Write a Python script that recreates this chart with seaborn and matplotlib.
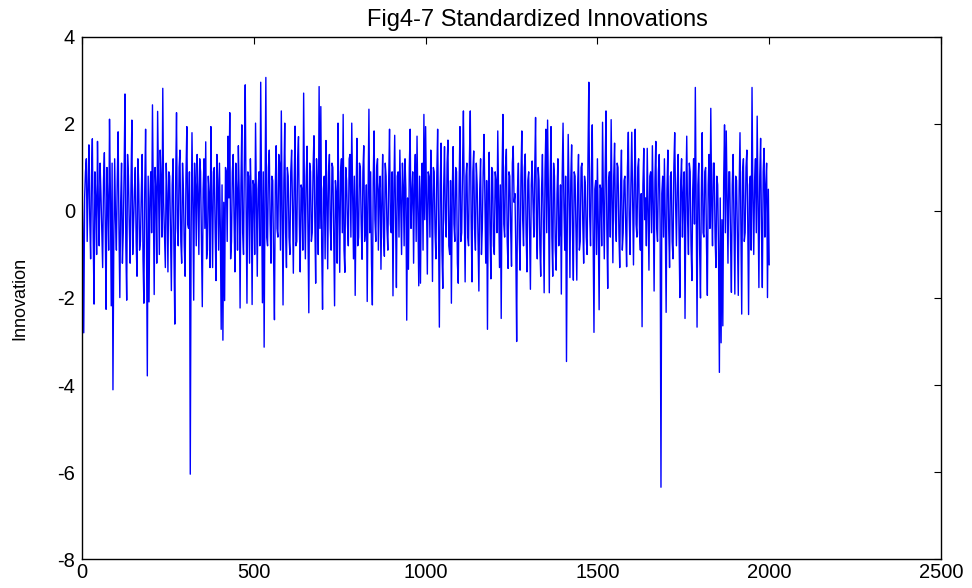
import numpy as np
import pandas as pd
import matplotlib
matplotlib.use("Agg")
import matplotlib.pyplot as plt
import seaborn as sns

# Standardized innovations (one value every 2.5 samples)
step = 2.5
innov = [
    0.6, -0.4, -2.8, 0.3, 0.9, 1.2, -0.7, 0.5, 1.52, -0.2, -1.1, 0.8, 1.66, -0.6, -2.14, 0.9, 0.3, -1.0, 1.6, 0.2,
    -0.8, 1.1, 0.4, -0.5, -1.3, 0.7, 1.34, -0.3, -2.26, 1.0, 0.2, -0.9, 2.11, 0.4, -2.18, 1.1, -4.11, -0.6, 1.2, -0.2,
    -0.9, 0.7, 1.82, -0.4, -1.99, 0.2, 1.1, -1.2, -0.5, 0.9, 2.69, -0.8, -2.05, 1.3, 0.8, -0.3, -1.2, 0.6, 2.09, -1.0,
    -0.3, 0.5, 1.0, -0.7, -1.5, 1.2, 0.6, -0.9, -0.7, 0.4, 1.3, -1.1, -2.12, 0.5, 1.88, -0.6, -3.79, 0.8, -2.09, 0.3,
    0.9, -0.5, 2.44, 0.3, -1.92, 1.0, 0.5, -1.2, 2.29, 0.6, -1.0, 1.4, 0.7, -0.6, 2.82, 0.2, -0.6, -1.3, 1.1, 0.4,
    -1.4, 0.9, 0.8, -0.5, -1.83, 0.6, 1.2, -0.9, -2.6, 0.7, 2.26, -0.4, -0.8, 1.0, 1.4, -0.7, -1.2, 1.1, 0.5, -0.8,
    -1.5, 0.8, 1.94, -0.3, -0.4, 0.9, -6.05, -0.5, 1.8, 0.2, -2.05, 1.1, 0.6, -0.8, 1.3, 0.4, -1.0, 1.2, 0.9, -0.6,
    -2.2, 0.5, 1.2, -0.4, 1.59, -1.1, -0.9, 0.8, 0.4, -1.3, 1.94, 0.1, -1.3, 0.9, 1.0, -0.5, -1.6, 1.3, 0.7, -0.9,
    1.1, -0.4, -2.72, 0.6, -2.97, 0.2, -2.06, 1.0, 0.9, -0.7, 1.72, 0.3, 2.26, -1.1, -0.7, 0.9, 1.3, -0.2, -1.4, 1.1,
    0.5, -0.9, 1.5, 0.4, -2.23, 0.6, 1.98, -0.5, -1.0, 1.2, 2.9, 0.1, -2.12, 0.9, 0.8, -1.2, 1.2, 0.3, -2.15, 0.7,
    0.6, -1.0, 2.02, 0.2, -1.5, 0.5, 0.9, -0.8, 2.96, 0.4, -2.11, 0.9, -3.13, 0.3, 3.07, -0.6, -0.8, 1.0, 1.4, -0.3,
    -1.2, 0.8, 0.7, -1.1, -2.5, 0.6, 1.5, -0.4, -0.6, 1.3, 1.1, -0.9, 2.3, 0.1, -2.16, 0.7, 2.02, -0.5, -1.3, 1.0,
    0.8, -0.6, -1.0, 0.9, 1.4, 0.1, -1.43, 0.7, 1.95, -0.8, -0.7, 1.2, 1.71, -0.3, -1.4, 0.6, 0.5, -0.9, 2.71, 0.2,
    -1.1, 0.8, 1.49, -0.5, -2.34, 1.1, 0.9, -0.7, -0.5, 1.0, 1.73, -0.2, -1.66, 1.2, 0.6, -1.0, 2.86, -0.4, 2.4, -0.8,
    -2.26, 0.5, 0.8, -1.1, 1.62, 0.3, -1.33, 0.9, 1.3, -0.4, -0.9, 1.1, 1.0, -0.6, -2.18, 0.7, 0.4, -1.2, 2.02, 0.1,
    -1.41, 0.9, 1.2, -0.5, 2.22, -0.9, -1.41, 1.0, 0.7, -0.3, -0.8, 1.2, 1.3, -0.6, 2.02, 0.4, -1.1, 0.8, -1.94, 0.2,
    1.67, -0.8, -0.6, 1.1, 1.0, -0.3, -1.11, 0.9, 1.5, -0.7, -0.4, 0.6, -2.08, 0.3, 2.34, -0.5, 0.9, -1.2, -2.16, 0.7,
    1.84, -0.2, -0.7, 1.0, 1.2, -0.9, 0.5, 0.8, -1.34, 0.2, 1.3, -0.6, -1.04, 1.1, 0.8, -0.4, -0.9, 0.7, 1.88, -0.3,
    -0.5, 0.9, -1.95, 0.4, 1.74, -0.2, -1.76, 0.8, 0.9, -0.6, 1.4, 0.2, -1.0, 1.1, 0.6, -0.8, 1.2, 0.5, -2.51, 0.3,
    -1.34, 1.0, 1.88, -0.4, 0.4, 0.9, -1.2, 0.6, 1.3, -0.7, 1.72, 0.1, -1.72, 0.8, -1.66, 0.5, 1.1, -0.9, 2.22, -0.2,
    1.94, 0.3, -1.45, 0.9, 0.8, -0.6, 1.4, 0.2, -1.62, 1.0, 0.9, -0.5, -1.1, 0.8, 1.88, -0.4, -2.67, 0.6, 1.56, -0.9,
    -1.78, 0.5, 1.48, -0.2, -0.6, 1.1, 1.63, -0.8, -1.0, 0.7, -2.12, 0.4, 1.48, -0.3, -0.7, 1.0, 0.9, -1.2, -1.66, 0.6,
    1.94, -0.7, -0.5, 1.0, 2.3, 0.1, -1.63, 0.8, 1.1, -0.6, -0.8, 1.2, 2.3, -0.2, -1.63, 0.9, 1.38, -0.4, -0.9, 1.1,
    0.6, -0.7, -1.84, 0.5, 1.2, -1.0, -0.4, 0.9, 1.76, 0.2, -1.2, 0.7, -2.72, 0.4, 1.35, -0.5, -1.56, 1.0, 0.9, -0.8,
    -1.0, 0.9, 0.7, -0.5, 1.84, 0.3, -1.3, 0.6, -2.47, 0.8, 2.22, -0.3, -0.6, 1.0, 1.42, -0.7, -1.32, 0.9, 0.8, -0.4,
    -1.27, 1.1, 1.49, 0.2, 0.4, -0.9, -3.0, 0.5, 1.1, -0.6, -1.36, 0.8, 1.84, -0.2, -0.8, 1.0, 1.31, -0.5, -1.4, 0.7,
    0.9, -0.4, -1.8, 0.6, 1.15, 0.2, -0.6, 0.9, 2.15, -0.3, -1.1, 1.0, 0.7, -0.8, -1.5, 0.5, 1.3, -0.2, -1.88, 0.9,
    1.88, -0.5, 2.09, 0.3, -1.88, 0.7, 1.94, -0.6, -1.5, 1.1, 0.8, -0.9, -1.36, 0.4, 1.2, -0.8, -0.5, 0.6, -1.91, 0.8,
    2.02, 0.1, -0.9, 0.8, -3.46, -0.2, 1.76, 0.4, -1.53, 0.7, 1.52, -0.5, -1.59, 0.9, 0.8, -0.4, -1.59, 0.6, 1.3, -0.9,
    -0.7, 1.0, 1.1, -0.3, -1.2, 0.8, 0.6, -0.6, -1.0, 1.2, 2.96, -0.1, -0.8, 0.9, 1.98, -0.6, -2.79, 0.5, 0.7, -1.0,
    1.2, -0.3, -2.27, 0.6, 0.5, -0.8, 2.04, 0.2, -1.1, 0.9, 2.3, -0.4, -1.78, 0.7, 0.9, -0.6, 2.1, 0.3, -1.19, 0.8,
    1.56, -0.2, -0.7, 1.1, 1.0, -0.5, -1.3, 0.6, 1.4, -0.9, -0.5, 0.7, 0.8, -0.4, -1.28, 1.0, 1.81, -0.1, -1.0, 0.6,
    1.81, 0.2, -1.24, 0.7, 1.88, -0.3, -0.6, 1.0, 1.2, -0.5, -0.9, 0.4, -2.66, 0.6, 1.44, -0.2, 0.3, -0.8, 1.44, 0.1,
    -1.36, 0.8, 0.9, -0.5, 1.5, 0.2, -1.84, 0.7, 1.6, -0.4, -0.7, 0.9, 1.3, -0.3, -6.35, 0.4, 0.8, -0.6, 1.2, -0.2,
    -2.33, 0.5, 1.4, -0.4, -1.3, 0.8, 0.9, -0.7, -1.1, 1.0, 1.8, 0.2, -0.8, 0.6, 1.3, -0.5, -1.99, 0.7, 1.2, -0.6,
    0.4, 0.9, -2.47, 0.3, 1.72, -0.2, -1.0, 1.1, 0.9, -0.8, -1.6, 0.5, 1.2, -0.3, 2.84, 0.1, -2.67, 0.6, 1.1, -0.9,
    -2.0, 0.4, 1.8, -0.5, -0.6, 0.9, 1.0, -0.8, -1.94, 0.6, 1.3, -0.4, 2.36, 0.2, -0.8, 1.1, 1.1, -0.6, -1.3, 0.8,
    0.6, -0.9, -3.71, 0.3, -3.03, -0.2, -2.64, 0.7, 1.98, -0.5, 1.84, 0.4, -1.2, 0.9, 0.9, -0.7, -1.87, 0.6, 1.3, -0.4,
    -1.91, 0.8, 0.7, -0.6, -1.94, 0.5, 1.8, -0.3, -2.37, 0.9, 1.2, -0.7, -0.5, 1.0, 1.4, -0.2, -2.38, 0.6, 0.8, -0.9,
    2.84, 0.3, -1.0, 0.7, 1.2, -0.5, 2.18, 0.1, -1.76, 0.8, 1.67, -0.4, -1.76, 0.9, 1.44, -0.6, 0.6, 1.1, -1.99, 0.5,
    -1.24,
]
x_ticks = [0, 500, 1000, 1500, 2000, 2500]
y_ticks = [-8, -6, -4, -2, 0, 2, 4]

df = pd.DataFrame({"t": np.arange(len(innov)) * step, "innovation": innov})

sns.set_style("white", rc={
    "text.color": "black",
    "axes.labelcolor": "black",
    "xtick.color": "black",
    "ytick.color": "black",
})
plt.rcParams['font.family'] = ['Liberation Sans', 'DejaVu Sans']
plt.rcParams['axes.unicode_minus'] = False

fig = plt.figure(figsize=(9.72, 5.88), dpi=100)
ax = fig.add_axes([0.0844, 0.0493, 0.8837, 0.8878])

sns.lineplot(
    data=df,
    x="t",
    y="innovation",
    color="blue",
    linewidth=1.0,
    estimator=None,
    sort=False,
    ax=ax
)

ax.set_xlim(0, 2500)
ax.set_ylim(-8, 4)
ax.set_xticks(x_ticks)
ax.set_yticks(y_ticks)
ax.tick_params(
    direction='in',
    length=5,
    width=0.8,
    top=True,
    right=True,
    labelsize=14.5
)
ax.tick_params(axis='x', pad=3)
ax.tick_params(axis='y', pad=5)

for side in ax.spines.values():
    side.set_color('black')
    side.set_linewidth(1.0)

ax.set_title("Fig4-7 Standardized Innovations", fontsize=17, pad=8, x=0.53)
ax.set_xlabel("")
ax.set_ylabel("Innovation", fontsize=13, labelpad=21)

fig.savefig("out.png", dpi=100)
